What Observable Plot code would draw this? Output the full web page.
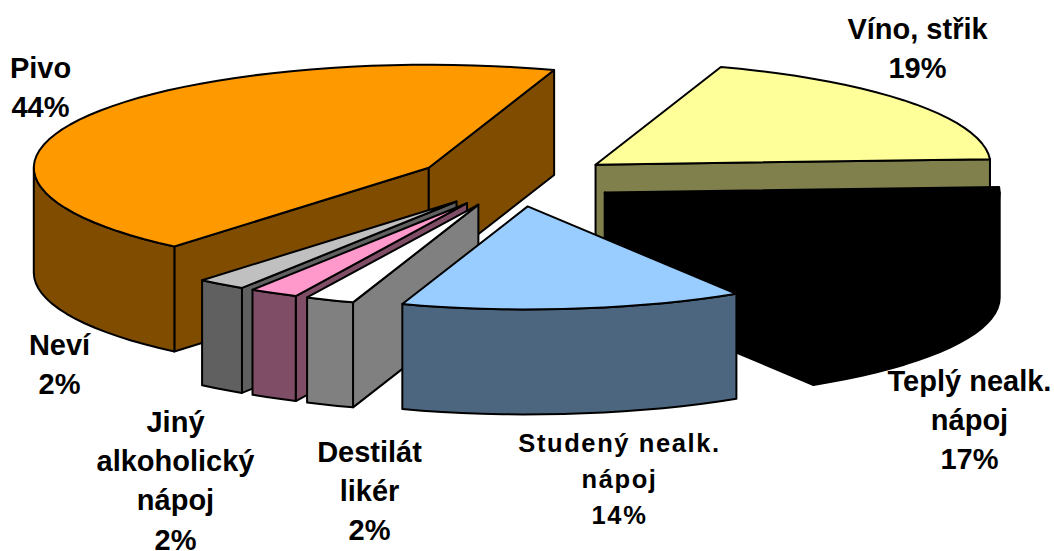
<!DOCTYPE html>
<html><head><meta charset="utf-8">
<style>html,body{margin:0;padding:0;background:#fff}svg{display:block;overflow:visible}</style>
<script src="https://cdn.jsdelivr.net/npm/d3@7"></script>
<script src="https://cdn.jsdelivr.net/npm/@observablehq/plot@0.6"></script>
</head><body><script>
// Data, clockwise from the start angle
const names = ["Víno, střik","Teplý nealk. nápoj","Studený nealk. nápoj","Destilát likér","Jiný alkoholický nápoj","Neví","Pivo"];
const shares = [19,17,14,2,2,2,44];
const labelLines = ["Víno, střik\n19%","Teplý nealk.\nnápoj\n17%","Studený nealk.\nnápoj\n14%","Destilát\nlikér\n2%","Jiný\nalkoholický\nnápoj\n2%","Neví\n2%","Pivo\n44%"];
const topColors = ["#FFFF99","#000000","#99CCFF","#FFFFFF","#FF99CC","#C0C0C0","#FF9900"];
const wallColors = ["#80804D","#000000","#4D6680","#808080","#804D66","#606060","#804D00"];
// Layout
const startAngle = 18.5, rx = 395, ry = 103, depth = 105, explode = 100;
const cx = 515.5, cy = 180;
const labelX = [917,969,619,369,175,59,40];
const labelY = [10,362,426,433,403,326,49];
const drawOrder = [6,0,1,5,4,3,2];
const rad = d => d * Math.PI / 180;

let acc = startAngle;
const slices = shares.map((s,i) => {
  const t0 = acc, t1 = acc + s * 3.6; acc = t1;
  const mid = rad((t0 + t1) / 2);
  return {i, t0, t1, ax: cx + explode * Math.sin(mid), ay: cy - explode * ry / rx * Math.cos(mid)};
});
function rim(s, a) { return {x: s.ax + rx * Math.sin(rad(a)), y: s.ay - ry * Math.cos(rad(a))}; }
function arc(s, a, b) {
  const n = Math.max(1, Math.ceil(Math.abs(b - a) / 3)), out = [];
  for (let k = 0; k <= n; k++) out.push(rim(s, a + (b - a) * k / n));
  return out;
}
const down = p => ({x: p.x, y: p.y + depth});
function faces(s) {
  const A = {x: s.ax, y: s.ay}, list = [];
  const wall = wallColors[s.i];
  if (Math.sin(rad(s.t0)) < 0) { const R = rim(s, s.t0); list.push({pts:[A,R,down(R),down(A)], fill:wall}); }
  if (Math.sin(rad(s.t1)) > 0) { const R = rim(s, s.t1); list.push({pts:[A,R,down(R),down(A)], fill:wall}); }
  // outer wall: front part of the rim only
  for (const [lo,hi] of [[90,270],[450,630]]) {
    const a = Math.max(s.t0, lo), b = Math.min(s.t1, hi);
    if (b > a) { const r = arc(s, a, b); list.push({pts:[...r, ...r.slice().reverse().map(down)], fill:wall}); }
  }
  list.push({pts:[A, ...arc(s, s.t0, s.t1)], fill:topColors[s.i]});
  return list;
}
const marks = drawOrder.flatMap(i => faces(slices[i])).map(f =>
  Plot.line(f.pts, {x:"x", y:"y", curve:"linear-closed", fill:f.fill, stroke:"#000", strokeWidth:2, strokeLinejoin:"round"}));
const labels = labelLines.map((t,i) => ({t, x:labelX[i], y:labelY[i], name:names[i]}));
const textOpts = {x:"x", y:"y", text:"t", fill:"#000", stroke:"none", fontWeight:"bold", fontFamily:"Liberation Sans", textAnchor:"middle", lineAnchor:"top"};
marks.push(Plot.text(labels.filter(d => !d.name.startsWith("Studený")), {...textOpts, fontSize:29, lineHeight:1.36}));
marks.push(Plot.text(labels.filter(d => d.name.startsWith("Studený")), {...textOpts, fontSize:25.5, lineHeight:1.41}));

const chart = Plot.plot({
  width:1054, height:551, margin:0,
  x:{domain:[0,1054], range:[0,1054], axis:null},
  y:{domain:[0,551], range:[0,551], axis:null},
  marks
});
d3.select(chart).selectAll("text").filter(function(){return this.textContent.startsWith("Studený");}).attr("letter-spacing","1.6px");
document.body.append(chart);
</script></body></html>
